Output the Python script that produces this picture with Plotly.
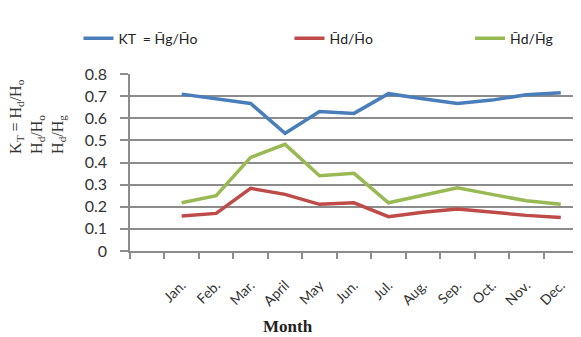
import plotly.graph_objects as go

months = ["Jan.", "Feb.", "Mar.", "April", "May", "Jun.", "Jul.", "Aug.", "Sep.", "Oct.", "Nov.", "Dec."]
kt = [0.709, 0.687, 0.667, 0.532, 0.630, 0.622, 0.711, 0.688, 0.667, 0.682, 0.706, 0.715]
hd_ho = [0.158, 0.170, 0.283, 0.256, 0.211, 0.218, 0.155, 0.175, 0.190, 0.175, 0.161, 0.151]
hd_hg = [0.218, 0.250, 0.423, 0.482, 0.340, 0.351, 0.218, 0.250, 0.286, 0.256, 0.227, 0.211]
names = ["KT  = H\u0304g/H\u0304o", "H\u0304d/H\u0304o", "H\u0304d/H\u0304g"]
yticks = [0, 0.1, 0.2, 0.3, 0.4, 0.5, 0.6, 0.7, 0.8]

xpos = list(range(1, len(months) + 1))
colors = ["#4A7EBB", "#BE4B48", "#98B954"]
series = [kt, hd_ho, hd_hg]
legends = ["legend", "legend2", "legend3"]
leg_x = [-0.115, 0.356, 0.759]

fig = go.Figure()
for s, n, c, lg in zip(series, names, colors, legends):
    fig.add_trace(go.Scatter(x=xpos, y=s, mode="lines", name=n,
                             line=dict(color=c, width=3.5), legend=lg))

legfont = dict(family="Lato", size=14, color="#222222")
for lg, lx in zip(legends, leg_x):
    fig.update_layout({lg: dict(x=lx, y=1.2, xanchor="left", yanchor="middle",
                                orientation="h", font=legfont,
                                bgcolor="rgba(0,0,0,0)")})

# the page body adds an 8px offset; margins compensate so the plot area
# lands at x 130..578, y 74..251 of the window
fig.update_layout(
    width=581, height=337,
    margin=dict(l=122, r=11, t=66, b=94, autoexpand=False),
    plot_bgcolor="white", paper_bgcolor="white",
    showlegend=True,
    xaxis=dict(range=[-0.5, 12.5], tickvals=xpos, ticktext=months,
               tickangle=-45, ticks="", showgrid=False, zeroline=False,
               showline=True, linecolor="#8C8C8C", linewidth=1.5,
               ticklabelstandoff=19, automargin=False,
               tickfont=dict(family="Lato", size=14, color="#333333"),
               minor=dict(tickvals=[i - 0.5 for i in range(0, 14)], ticks="outside",
                          ticklen=6, tickcolor="#8C8C8C", tickwidth=1.5, showgrid=False)),
    yaxis=dict(range=[0, 0.8], tickvals=yticks, ticktext=[f"{v:g}" for v in yticks],
               showgrid=True, gridcolor="#8C8C8C", gridwidth=1.5, zeroline=False,
               showline=True, linecolor="#8C8C8C", linewidth=1.5, automargin=False,
               ticks="outside", ticklen=8, tickcolor="#8C8C8C", tickwidth=1.5,
               ticklabelstandoff=10,
               tickfont=dict(family="Lato", size=16, color="#333333")),
    annotations=[
        dict(text="K<sub>T</sub> = H<sub>d</sub>/H<sub>o</sub><br>H<sub>d</sub>/H<sub>o</sub><br>H<sub>d</sub>/H<sub>g</sub>",
             x=-0.2054, y=0.763, xref="paper", yref="paper", xanchor="center", yanchor="middle",
             textangle=-90, align="left", showarrow=False,
             font=dict(family="Liberation Serif", size=16, color="#333333")),
        dict(text="<b>Month</b>", x=0.3527, y=-0.429, xref="paper", yref="paper",
             xanchor="center", yanchor="middle", showarrow=False,
             font=dict(family="Liberation Serif", size=17, color="#222222")),
    ],
)

fig.write_html("out.html")
